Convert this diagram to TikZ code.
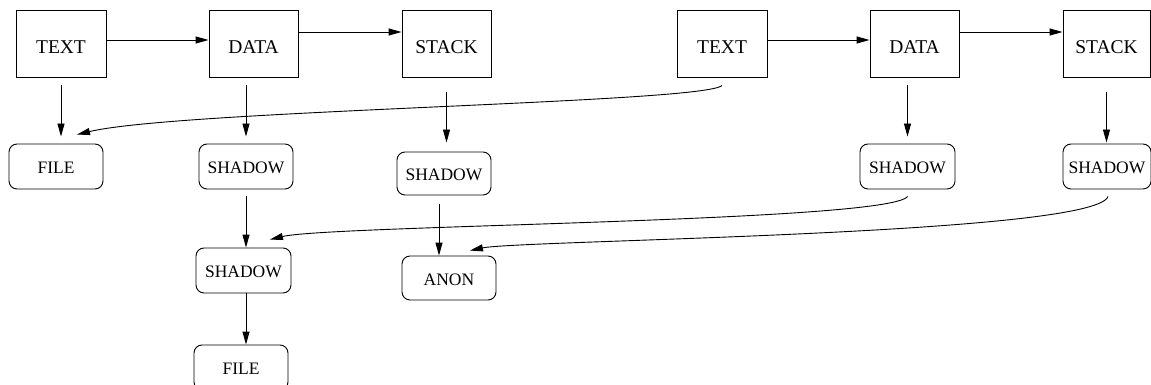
\documentclass[tikz,border=0pt]{standalone}
\usepackage{fontspec}
\setmainfont{Liberation Serif}
\usetikzlibrary{arrows.meta,calc}
\begin{document}
\begin{tikzpicture}[x=1pt,y=-1pt,
  proc/.style={draw,line width=0.9pt,minimum height=67pt,inner sep=0pt,
    font=\fontsize{19.5}{20}\selectfont,text height=21pt},
  seg/.style={draw,rounded corners=8pt,line width=0.9pt,minimum width=94pt,
    minimum height=45pt,inner sep=0pt,font=\fontsize{17.5}{18}\selectfont,text height=14.5pt},
  arr/.style={line width=0.9pt,-{Triangle[length=13pt,width=7pt]}}]
\useasboundingbox (0,0) rectangle (1151,385);
\clip (0,0) rectangle (1151,385);

% first address space
\node[proc,minimum width=90pt] (t1) at (61,43.5) {TEXT};
\node[proc,minimum width=89pt] (d1) at (253.5,43.5) {DATA};
\node[proc,minimum width=89pt] (s1) at (446.5,43.5) {STACK};
\node[seg] (f1)  at (56,166.5) {FILE};
\node[seg] (sh1) at (246,166.5) {SHADOW};
\node[seg,minimum height=43pt] (sh2) at (444,173.5) {SHADOW};
\node[seg,minimum width=95pt] (sh3) at (243.5,270.5) {SHADOW};
\node[seg] (f2)  at (241,367.5) {FILE};
\node[seg,minimum height=44pt] (an) at (449,278) {ANON};

% second address space
\node[proc,minimum width=90pt] (t2) at (722,43.5) {TEXT};
\node[proc,minimum width=89pt] (d2) at (914.5,43.5) {DATA};
\node[proc,minimum width=87pt] (s2) at (1106.5,43.5) {STACK};
\node[seg,minimum width=95pt] (sh4) at (907.5,166.5) {SHADOW};
\node[seg,minimum width=88pt] (sh5) at (1107,166.5) {SHADOW};

% region chains
\draw[arr] ([yshift=3.5pt]t1.east) -- ([yshift=3.5pt]d1.west);
\draw[arr] ([yshift=11.5pt]d1.east) -- ([yshift=11.5pt]s1.west);
\draw[arr] ([yshift=3.5pt]t2.east) -- ([yshift=3.5pt]d2.west);
\draw[arr] ([yshift=11.5pt]d2.east) -- ([yshift=11.5pt]s2.west);

% regions to objects
\draw[arr,shorten <=8pt,shorten >=7pt] (t1.south) -- (t1.south |- f1.north);
\draw[arr,shorten <=8pt,shorten >=7pt] (sh1.north |- d1.south) -- (sh1.north);
\draw[arr,shorten <=15pt,shorten >=9pt] (s1.south) -- (s1.south |- sh2.north);
\draw[arr,shorten <=8pt,shorten >=7pt] (sh4.north |- d2.south) -- (sh4.north);
\draw[arr,shorten <=15pt,shorten >=1pt] (s2.south) -- (s2.south |- sh5.north);

% shadow chains
\draw[arr,shorten <=7pt] (sh1.south) -- (sh1.south |- sh3.north);
\draw[arr] ([xshift=2.5pt]sh3.south) -- ([xshift=2.5pt]sh3.south |- f2.north);
\draw[arr,shorten <=9pt] ([xshift=-5pt]sh2.south) -- ([xshift=-5pt]sh2.south |- an.north);

% shared objects
\draw[arr] ($(t2.south)+(0,8)$) .. controls (705,103) and (180,110) .. ($(f1.north)+(21,-9)$);
\draw[arr] ($(sh4.south)+(0,7)$) .. controls (890,222) and (330,225) .. ($(sh3.north)+(26.5,-8)$);
\draw[arr] ($(sh5.south)+(1,7)$) .. controls (1095,235) and (520,240) .. ($(an.north)+(21,-5)$);
\end{tikzpicture}
\end{document}
